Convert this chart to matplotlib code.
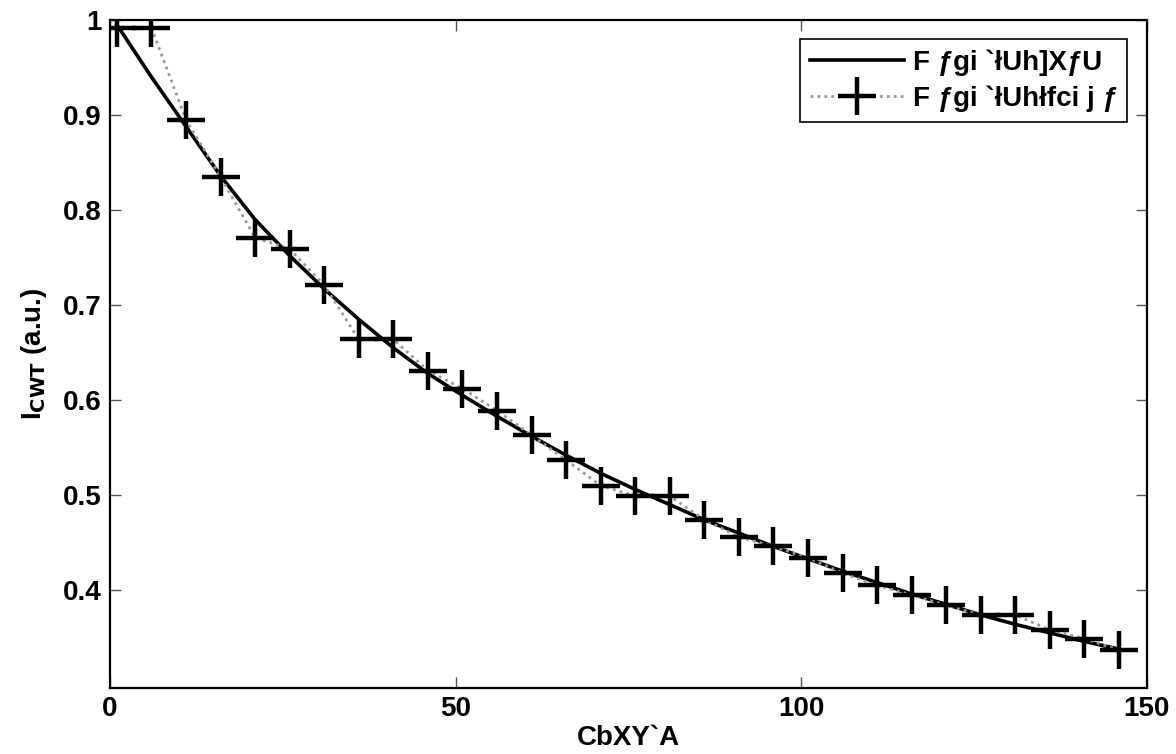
import matplotlib
matplotlib.use("Agg")
import matplotlib.pyplot as plt
from matplotlib.ticker import FixedLocator, FuncFormatter

plt.rcParams['font.family'] = ['Liberation Sans', 'DejaVu Sans']
plt.rcParams['font.weight'] = 'bold'

x_data = [1, 6, 11, 16, 21, 26, 31, 36, 41, 46, 51, 56, 61, 66, 71,
          76, 81, 86, 91, 96, 101, 106, 111, 116, 121, 126, 131, 136, 141, 146]
y_data = [0.992, 0.992, 0.895, 0.835, 0.771, 0.759, 0.721, 0.664, 0.664, 0.631,
          0.612, 0.589, 0.563, 0.537, 0.510, 0.499, 0.499, 0.474, 0.456, 0.446,
          0.434, 0.418, 0.405, 0.395, 0.384, 0.374, 0.374, 0.358, 0.349, 0.337]
y_fit = [0.995, 0.940, 0.888, 0.836, 0.790, 0.752, 0.717, 0.685, 0.655, 0.628,
         0.605, 0.583, 0.562, 0.542, 0.523, 0.506, 0.490, 0.474, 0.460, 0.446,
         0.433, 0.420, 0.408, 0.396, 0.385, 0.374, 0.364, 0.355, 0.346, 0.338]

label_fit = "F ƒgi `łUh]XƒU"
label_data = "F ƒgi `łUhłfci j ƒ"
xlabel = "CbXY`A"
ylabel = r"I$_{\mathbf{CWT}}$ (a.u.)"
xticks = [0, 50, 100, 150]
yticks = [0.4, 0.5, 0.6, 0.7, 0.8, 0.9, 1.0]

fig = plt.figure(figsize=(11.76, 7.54), dpi=100)
ax = fig.add_axes([0.0935, 0.0875, 0.8815, 0.886])

ax.plot(x_data, y_fit, '-', color='black', lw=2.6, label=label_fit)
ax.plot(x_data, y_data, linestyle=(0, (1, 1.5)), color='#999999', lw=2.0, marker='+',
        markersize=27, markeredgewidth=3.2, markeredgecolor='black',
        label=label_data)

ax.set_xlim(0, 150)
ax.set_ylim(0.297, 1.0)
ax.xaxis.set_major_locator(FixedLocator(xticks))
ax.yaxis.set_major_locator(FixedLocator(yticks))
ax.yaxis.set_major_formatter(FuncFormatter(lambda v, p: "1" if abs(v - 1) < 1e-9 else f"{v:.1f}"))
ax.tick_params(direction='in', top=True, right=True, length=8, width=1,
               labelsize=20, color='#555555', pad=6)
for lab in ax.get_xticklabels() + ax.get_yticklabels():
    lab.set_fontweight('bold')
for s in ax.spines.values():
    s.set_linewidth(1.6)

ax.set_xlabel(xlabel, fontsize=20, fontweight='bold', labelpad=2)
ax.set_ylabel(ylabel, fontsize=20, fontweight='bold', labelpad=10)

leg = ax.legend(loc='upper right', frameon=True, fancybox=False,
                edgecolor='black', framealpha=1, handlelength=3.4,
                borderaxespad=0.7, borderpad=0.35, labelspacing=0.35,
                handletextpad=0.3, prop={'weight': 'bold', 'size': 20})
leg.get_frame().set_linewidth(1.2)

fig.savefig("out.png", dpi=100)
